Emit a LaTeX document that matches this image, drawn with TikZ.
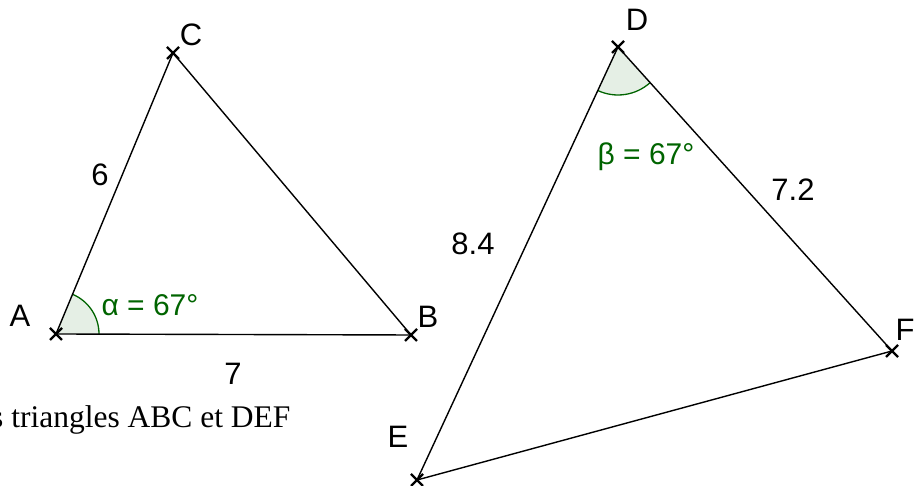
\documentclass[tikz,border=0pt]{standalone}
\usepackage{fontspec}
\setmainfont{Liberation Serif}
\newfontfamily\labfont{Liberation Sans}
\usetikzlibrary{angles,calc}
\definecolor{ggreen}{RGB}{0,100,0}
\tikzset{
  side/.style={line width=1.4pt, black},
  lbl/.style={font=\labfont\fontsize{31}{33}\selectfont, inner sep=0pt},
  anglbl/.style={font=\labfont\fontsize{30}{32}\selectfont, inner sep=0pt, text=ggreen},
  angmark/.style={draw=ggreen, line width=1.3pt, fill=ggreen, fill opacity=0.1},
  crossmark/.style={line width=2.2pt, black}
}
\newcommand{\crossat}[1]{\draw[crossmark] ($(#1)+(-6,-6)$) -- ($(#1)+(6,6)$) ($(#1)+(-6,6)$) -- ($(#1)+(6,-6)$);}
\begin{document}
\begin{tikzpicture}[x=1pt,y=1pt]
\useasboundingbox (0,0) rectangle (916,486);
\coordinate (A) at (56,152);
\coordinate (B) at (411,151);
\coordinate (C) at (173,433);
\coordinate (D) at (618,439);
\coordinate (E) at (417,6);
\coordinate (F) at (892,135);
% angle marks
\pic[angmark, angle radius=43pt] {angle = B--A--C};
\pic[angmark, angle radius=48pt] {angle = E--D--F};
% sides
\draw[side] (A) -- (B);
\draw[side] (B) -- (C);
\draw[side] (C) -- (A);
\draw[side] (D) -- (E);
\draw[side] (E) -- (F);
\draw[side] (F) -- (D);
% crosses
\crossat{A}\crossat{B}\crossat{C}\crossat{D}\crossat{E}\crossat{F}
% labels
\node[lbl] (lA) at (20,170) {A};
\node[lbl] (lB) at (428,169) {B};
\node[lbl] (lC) at (191,451) {C};
\node[lbl] (lD) at (637,466) {D};
\node[lbl] (lE) at (398,49) {E};
\node[lbl] (lF) at (905,156) {F};
\node[lbl] (s6) at (100,311) {6};
\node[lbl] (s7) at (233,112) {7};
\node[lbl] (s84) at (473,242) {8.4};
\node[lbl] (s72) at (793,296) {7.2};
\node[anglbl] (alpha) at (150,181) {α = 67°};
\node[anglbl] (beta) at (646,329) {β = 67°};
\node[font=\fontsize{31.5}{34}\selectfont, inner sep=0pt, anchor=base west] (cap) at (-9,58) {s triangles ABC et DEF};
\end{tikzpicture}
\end{document}
